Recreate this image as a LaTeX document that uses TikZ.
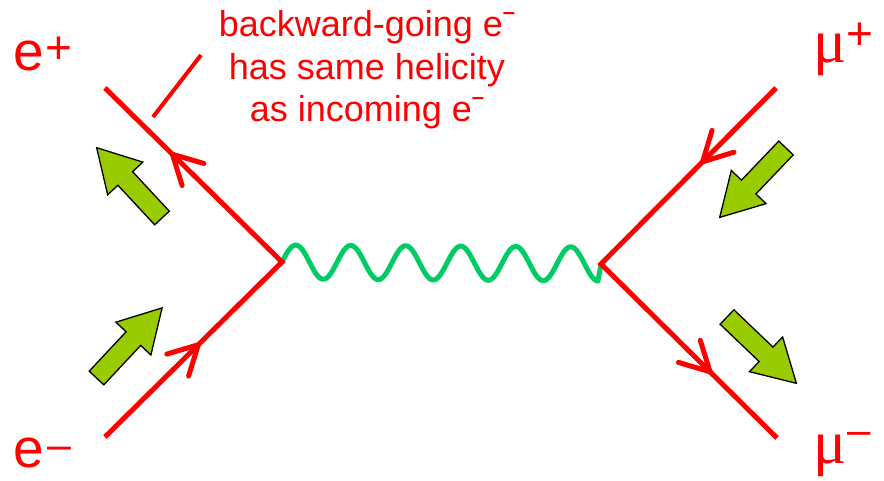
\documentclass[tikz,border=0pt]{standalone}
\usepackage{fontspec}
\setmainfont{Liberation Sans}
\newfontfamily\mufont{Liberation Serif}
\usetikzlibrary{decorations.markings}
\definecolor{fred}{RGB}{255,0,0}
\definecolor{wgreen}{RGB}{0,204,102}
\definecolor{limeg}{RGB}{153,204,0}
\newcommand\supminus{\raisebox{17pt}{\fontsize{22}{22}\selectfont\bfseries –}}
\begin{document}
\begin{tikzpicture}[x=1pt,y=-1pt,
  fermion/.style={draw=fred, line width=5pt, line join=miter},
  farrow/.style={postaction={decorate}, decoration={markings,
     mark=at position #1 with {\draw[fred, line width=5pt, line cap=round, line join=round] (-29,15.5) -- (0,0) -- (-29,-15.5);}}},
  photon/.style={draw=wgreen, line width=5pt, line join=round},
  blockarrow/.pic={\draw[draw=black, line width=1.3pt, fill=limeg, line join=miter]
     (0,-10) -- (54,-10) -- (54,-24) -- (96,0) -- (54,24) -- (54,10) -- (0,10) -- cycle;},
  lab/.style={text=fred, inner sep=0pt, anchor=base west}
]
\useasboundingbox (0,0) rectangle (884,481);

\coordinate (v1) at (282,262);
\coordinate (v2) at (601,264);
\coordinate (ep) at (105,88);
\coordinate (em) at (105,437);
\coordinate (mp) at (776,88);
\coordinate (mm) at (777,438);
\coordinate (n1) at (201,55);
\coordinate (n2) at (153,117);

% photon
\draw[photon, shift={(v1)}] plot[domain=0:316, samples=300, smooth]
   (\x, {-17*sin(\x/55*360) + 2*\x/319}) -- (v2);

% fermion lines
\draw[fermion, postaction={farrow=0.264}, postaction={farrow=0.81}] (em) -- (v1) -- (ep);
\draw[fermion, postaction={farrow=0.21}, postaction={farrow=0.81}] (mp) -- (v2) -- (mm);

% annotation pointer
\draw[fred, line width=4pt] (n1) -- (n2);

% helicity arrows
\pic[rotate=132.9] at (162,218) {blockarrow};
\pic[rotate=46.9] at (96.5,378) {blockarrow};
\pic[rotate=226.3] at (786,148) {blockarrow};
\pic[rotate=-43.7] at (727,317) {blockarrow};

% labels
\node[lab, font=\fontsize{55}{55}\selectfont] (eplab) at (13,71)
  {e\kern2pt\raisebox{7pt}{\fontsize{46}{46}\selectfont +}};
\node[lab, font=\fontsize{55}{55}\selectfont] (emlab) at (13,467)
  {e\kern4pt\raisebox{8pt}{\fontsize{43}{43}\selectfont –}};
\node[lab, font=\fontsize{62}{62}\selectfont] (mplab) at (813,63)
  {{\mufont μ}\raisebox{13.5pt}{\fontsize{46}{46}\selectfont +}};
\node[lab, font=\fontsize{62}{62}\selectfont] (mmlab) at (813,463)
  {{\mufont μ}\kern1pt\raisebox{18.5pt}{\fontsize{42}{42}\selectfont –}};

\node[anchor=base, align=center, text=fred, inner sep=0pt,
      font=\fontsize{36}{42.5}\selectfont] (note) at (367,122)
  {backward-going e\supminus\\has same helicity\\as incoming e\supminus};
\end{tikzpicture}
\end{document}
